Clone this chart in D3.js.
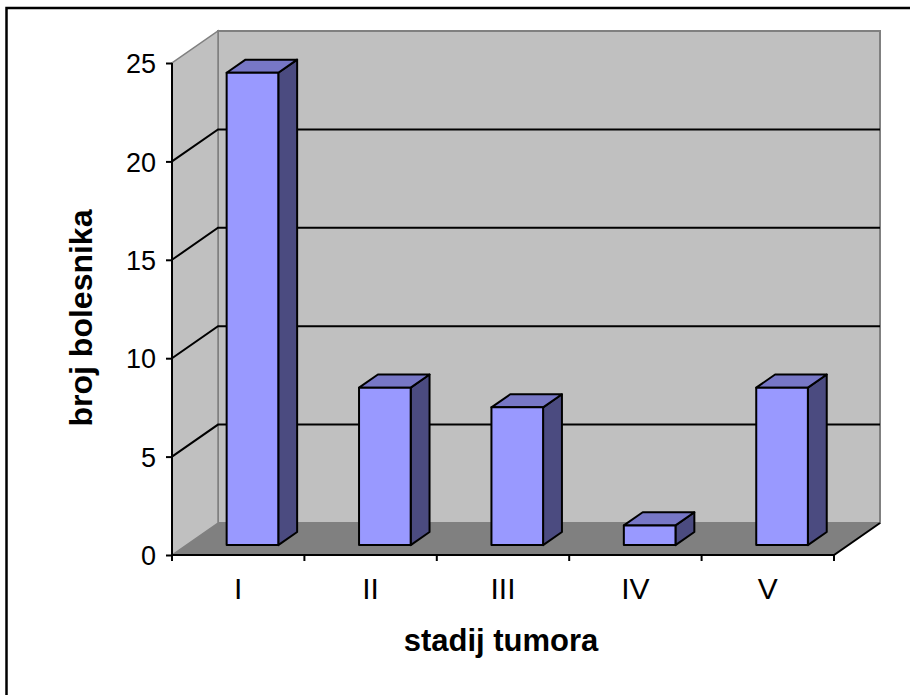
<!DOCTYPE html>
<html>
<head>
<meta charset="utf-8">
<script src="https://cdn.jsdelivr.net/npm/d3@7"></script>
<style>
  body { margin: 0; background: #fff; }
  svg { display: block; }
</style>
</head>
<body>
<svg id="chart" width="910" height="695"></svg>
<script>
// data
const categories = ['I', 'II', 'III', 'IV', 'V'];
const patients = [24, 8, 7, 1, 8];
const yTicks = [0, 5, 10, 15, 20, 25];

const svg = d3.select('#chart').style('font-family', 'Liberation Sans, Arial, sans-serif');

// frame (only left and top edges are visible in the original)
svg.append('path')
	.attr('d', 'M6.5,700 L6.5,8 L915,8')
	.attr('fill', 'none')
	.attr('stroke', '#000')
	.attr('stroke-width', 2.5);

// 3d box geometry
const left = 172, right = 834, floorY = 555, topY = 63;
const depthX = 46, depthY = -32;
const barFront = 0.31, barBack = 0.72;

const xScale = d3.scaleBand().domain(categories).range([left, right]);
const yScale = d3.scaleLinear().domain([0, 25]).range([floorY, topY]);

// project a point given front x, value and depth fraction
const proj = (x, v, d) => [x + d * depthX, yScale(v) + d * depthY];
const poly = pts => 'M' + pts.map(p => p.join(',')).join('L') + 'Z';
const line = pts => 'M' + pts.map(p => p.join(',')).join('L');

// walls and floor
svg.append('path')
	.attr('d', poly([proj(left, 0, 1), proj(left, 25, 1), proj(right, 25, 1), proj(right, 0, 1)]))
	.attr('fill', '#c0c0c0')
	.attr('stroke', '#808080')
	.attr('stroke-width', 2);
svg.append('path')
	.attr('d', poly([proj(left, 0, 0), proj(left, 25, 0), proj(left, 25, 1), proj(left, 0, 1)]))
	.attr('fill', '#c0c0c0')
	.attr('stroke', '#808080')
	.attr('stroke-width', 1.5);
svg.append('path')
	.attr('d', poly([proj(left, 0, 0), proj(right, 0, 0), proj(right, 0, 1), proj(left, 0, 1)]))
	.attr('fill', '#808080')
	.attr('stroke', 'none');
// black front and right edge of the floor
svg.append('path')
	.attr('d', line([proj(left, 0, 0), proj(right, 0, 0), proj(right, 0, 1)]))
	.attr('fill', 'none')
	.attr('stroke', '#000')
	.attr('stroke-width', 2);

// gridlines on side and back wall
const grid = yTicks.filter(v => v > 0 && v < 25);
svg.selectAll('.grid')
	.data(grid)
	.enter()
	.append('path')
	.attr('class', 'grid')
	.attr('d', v => line([proj(left, v, 0), proj(left, v, 1), proj(right, v, 1)]))
	.attr('fill', 'none')
	.attr('stroke', '#000')
	.attr('stroke-width', 2);

// bars
const barW = xScale.bandwidth() * 0.39;
const bars = svg.selectAll('.bar')
	.data(categories.map((c, i) => ({ c, v: patients[i] })))
	.enter()
	.append('g')
	.attr('class', 'bar');

bars.each(function (d) {
	const g = d3.select(this);
	const x0 = xScale(d.c) + (xScale.bandwidth() - barW) / 2;
	const x1 = x0 + barW;
	// side, top, front
	g.append('path')
		.attr('d', poly([proj(x1, 0, barFront), proj(x1, d.v, barFront), proj(x1, d.v, barBack), proj(x1, 0, barBack)]))
		.attr('fill', '#4b4b80');
	g.append('path')
		.attr('d', poly([proj(x0, d.v, barFront), proj(x0, d.v, barBack), proj(x1, d.v, barBack), proj(x1, d.v, barFront)]))
		.attr('fill', '#7777c6');
	g.append('path')
		.attr('d', poly([proj(x0, 0, barFront), proj(x0, d.v, barFront), proj(x1, d.v, barFront), proj(x1, 0, barFront)]))
		.attr('fill', '#9999ff');
	g.selectAll('path')
		.attr('stroke', '#000')
		.attr('stroke-width', 2)
		.attr('stroke-linejoin', 'round');
});

// y axis
const yAxis = d3.axisLeft(yScale).tickValues(yTicks).tickSize(6).tickPadding(10);
const yG = svg.append('g').attr('transform', `translate(${left},0)`).call(yAxis);
yG.select('.domain').attr('stroke-width', 2).attr('d', `M-0,${floorY}V${topY}`);
yG.selectAll('.tick line').attr('stroke-width', 2);
yG.selectAll('.tick text')
	.style('font-size', '27px')
	.attr('dy', '0.36em');

// x axis (ticks on category boundaries)
const xAxis = d3.axisBottom(xScale).tickSize(0);
const xG = svg.append('g').attr('transform', `translate(0,${floorY})`).call(xAxis);
xG.select('.domain').remove();
xG.selectAll('.tick text')
	.style('font-size', '30px')
	.attr('y', 44)
	.attr('dy', 0);
xG.selectAll('.sep')
	.data(categories.map(c => xScale(c)).concat([right]))
	.enter()
	.append('line')
	.attr('class', 'sep')
	.attr('x1', d => d).attr('x2', d => d)
	.attr('y1', 0).attr('y2', 6)
	.attr('stroke', '#000')
	.attr('stroke-width', 2);

// axis titles
svg.append('text')
	.attr('transform', `translate(92,318) rotate(-90)`)
	.attr('text-anchor', 'middle')
	.style('font-size', '32px')
	.style('font-weight', 'bold')
	.text('broj bolesnika');

svg.append('text')
	.attr('x', 501)
	.attr('y', 651)
	.attr('text-anchor', 'middle')
	.style('font-size', '31px')
	.style('font-weight', 'bold')
	.text('stadij tumora');
</script>
</body>
</html>
